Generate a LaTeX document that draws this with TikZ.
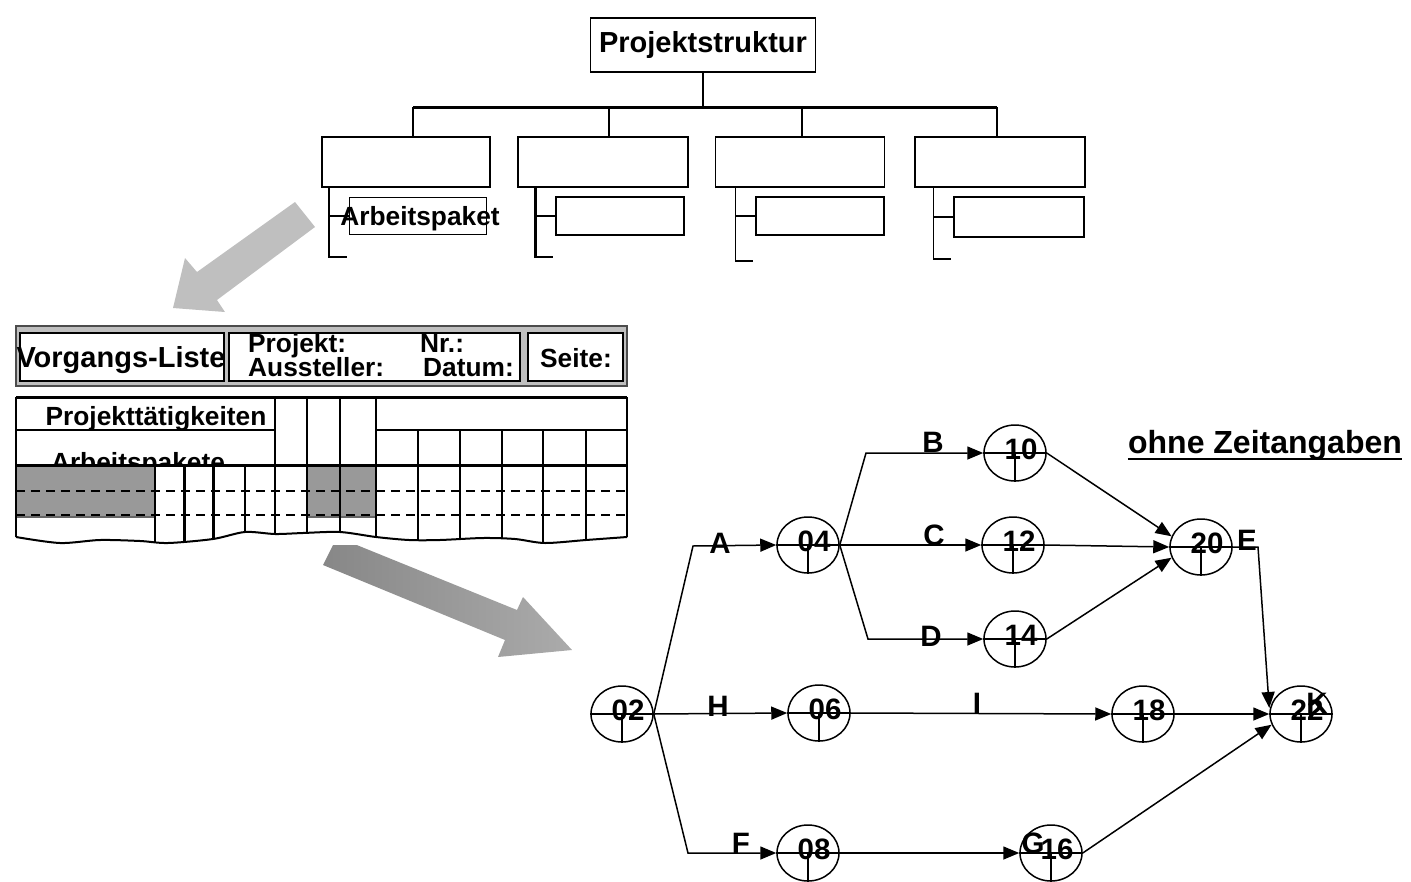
\documentclass[tikz,border=0pt]{standalone}
\usepackage{fontspec}
\setmainfont{Liberation Sans}
\usetikzlibrary{arrows.meta, shapes.geometric}

\newcommand{\headfont}{\fontsize{29}{29}\selectfont\bfseries}
\newcommand{\formfont}{\fontsize{26.3}{26.3}\selectfont\bfseries}
\newcommand{\netfont}{\fontsize{29.5}{29.5}\selectfont\bfseries}
\newcommand{\notefont}{\fontsize{32}{32}\selectfont\bfseries}

\begin{document}
\begin{tikzpicture}[x=1pt, y=-1pt,
  box/.style={draw, line width=1.5pt, inner sep=0pt},
  fbox/.style={draw, line width=2pt, fill=white, inner sep=0pt, minimum height=48pt},
  ftxt/.style={font=\formfont, inner sep=0pt, anchor=base},
  ev/.style={ellipse, draw, line width=1.5pt, minimum width=62pt, minimum height=56pt, inner sep=0pt},
  num/.style={font=\netfont, inner sep=0pt},
  lbl/.style={font=\netfont, inner sep=0pt},
  act/.style={line width=1.5pt, -{Triangle[length=16pt, width=13pt]}},
]
\useasboundingbox (0,0) rectangle (1411,881);

% Projektstruktur
\node[box, font=\headfont, minimum width=225pt, minimum height=54pt] (ps) at (703,45) {Projektstruktur};
\coordinate (bar) at (703,107);
\node[box, minimum width=168pt, minimum height=50pt] (b1) at (406,162) {};
\node[box, minimum width=170pt, minimum height=50pt] (b2) at (603,162) {};
\node[box, minimum width=169pt, minimum height=50pt] (b3) at (800,162) {};
\node[box, minimum width=170pt, minimum height=50pt] (b4) at (1000,162) {};
\node[box, minimum width=137pt, minimum height=37pt] (s1) at (418,216) {};
\node[box, minimum width=128pt, minimum height=38pt] (s2) at (620,216) {};
\node[box, minimum width=128pt, minimum height=38pt] (s3) at (820,216) {};
\node[box, minimum width=130pt, minimum height=40pt] (s4) at (1019,217) {};
\node[ftxt] (ap) at (420,225) {Arbeitspaket};

\draw[line width=2pt] (ps.south) -- (bar);
\draw[line width=3pt] ([xshift=7pt]b1.north |- bar) -- ([xshift=-3pt]b4.north |- bar);
\foreach \b/\d in {b1/7, b2/6, b3/2, b4/-3}
  \draw[line width=1.5pt] ([xshift=\d pt]\b.north) -- ([xshift=\d pt]\b.north |- bar);

% Klammern der Arbeitspakete
\foreach \b/\s/\w/\l in {b1/s1/2.5/69, b2/s2/2.5/69, b3/s3/1.5/73, b4/s4/1.5/71} {
  \path (\s.west) ++(-20,0) coordinate (t\s);
  \draw[line width=\w pt] (t\s) -- (\s.west);
  \draw[line width=\w pt] (t\s |- \b.south) -- ++(0,\l) -- ++(18,0);
}

% graue Pfeile
\fill[black!25] (295,202) -- (315,227) -- (217,300) -- (225,312) -- (173,308)
  -- (185,258) -- (197,272) -- cycle;
\shade[left color=black!47, right color=black!33] (337,537) -- (517,610) -- (523,597)
  -- (572,650) -- (498,657) -- (505,640) -- (323,565) -- cycle;

% Vorgangs-Liste, Kopf
\draw[line width=2pt, draw=black!70, fill=black!25] (16,326) rectangle (627,386);
\node[fbox, minimum width=204pt] (vl) at (122,357) {};
\node[fbox, minimum width=291pt] (pk) at (374.5,357) {};
\node[fbox, minimum width=95pt] (se) at (575.5,357) {};
\node[ftxt, font=\headfont] (tvl) at (121,367) {Vorgangs-Liste};
\node[ftxt, anchor=base west] (tpj) at (248,352) {Projekt:};
\node[ftxt, anchor=base west] (tnr) at (420,352) {Nr.:};
\node[ftxt, anchor=base west] (tau) at (248,376) {Aussteller:};
\node[ftxt, anchor=base west] (tda) at (423,376) {Datum:};
\node[ftxt] (tse) at (576,367) {Seite:};

% Vorgangs-Liste, Tabelle
\node[ftxt] (tpt) at (156,425) {Projekttätigkeiten};
\node[ftxt] (tar) at (138,471) {Arbeitspakete};
\fill[white] (17,466.5) rectangle (626,545);
\draw[line width=1.5pt, draw=black!60, fill=black!40] (16,465) rectangle (155,517);
\draw[line width=1.5pt, draw=black!60, fill=black!40] (307,465) rectangle (376,517);

\begin{scope}
\clip (5,390) -- (640,390) -- (640,537) -- plot[smooth] coordinates {
(627,537) (586,540) (545,543) (515,539) (483,538) (440,540) (409,540) (376,537)
(340,532) (303,533) (275,534) (245,532) (213,539) (168,543) (140,541) (100,540)
(60,543) (16,537) (5,537)} -- cycle;
\foreach \x/\w in {16/2.5, 275/2, 307/2.5, 340/1.5, 376/2.5, 627/2.5}
  \draw[line width=\w pt] (\x,397) -- (\x,560);
\foreach \x/\w in {418/2.5, 460/1.5, 502/2.5, 543/2.5, 586/1.5}
  \draw[line width=\w pt] (\x,430) -- (\x,560);
\foreach \x/\w in {155/2.5, 184/3, 213/3, 245/2}
  \draw[line width=\w pt] (\x,465) -- (\x,560);
\draw[line width=2pt, dash pattern=on 9pt off 6pt] (16,491) -- (627,491);
\draw[line width=2pt, dash pattern=on 9pt off 6pt] (16,515) -- (627,515);
\end{scope}
\draw[line width=2pt] plot[smooth] coordinates {
(16,537) (60,543) (100,540) (140,541) (168,543) (213,539) (245,532) (275,534)
(303,533) (340,532) (376,537) (409,540) (440,540) (483,538) (515,539) (545,543)
(586,540) (627,537)};
\draw[line width=3pt] (16,397) -- (627,397);
\draw[line width=2.5pt] (16,430) -- (275,430) (376,430) -- (627,430);
\draw[line width=3pt] (16,465) -- (627,465);

% Netzplan
\foreach \n/\x/\y in {02/622/714, 04/808/545, 06/819/713, 08/808/853, 10/1015/453,
  12/1013/545, 14/1015/639, 16/1051/853, 18/1143/714, 20/1201/547, 22/1301/714} {
  \node[ev] (n\n) at (\x,\y) {};
  \node[num] (t\n) at ([xshift=6pt, yshift=4pt]n\n.center) {\n};
  \draw[line width=1.5pt] (n\n.west) -- (n\n.east) (n\n.center) -- (n\n.south);
}

\coordinate (kA) at (693,546);
\coordinate (kF) at (688,853);
\coordinate (kB) at (866,453);
\coordinate (kD) at (868,639);
\coordinate (kE) at (1258,547);

\draw[act] (n02.east) -- (kA) -- (n04.west);
\draw[act] (n02.east) -- (n06.west);
\draw[act] (n02.east) -- (kF) -- (n08.west);
\draw[act] (n04.east) -- (kB) -- (n10.west);
\draw[act] (n04.east) -- (n12.west);
\draw[act] (n04.east) -- (kD) -- (n14.west);
\draw[act] (n10.east) -- (n20.160);
\draw[act] (n12.east) -- (n20.west);
\draw[act] (n14.east) -- (n20.200);
\draw[act] (n20.east) -- (kE) -- ([yshift=6pt]n22.west);
\draw[act] (n06.east) -- (n18.west);
\draw[act] (n18.east) -- (n22.west);
\draw[act] (n08.east) -- (n16.west);
\draw[act] (n16.east) -- (n22.200);

\node[lbl] (lA) at (720,543) {A};
\node[lbl] (lB) at (933,442) {B};
\node[lbl] (lC) at (934,535) {C};
\node[lbl] (lD) at (931,636) {D};
\node[lbl] (lE) at (1247,540) {E};
\node[lbl] (lF) at (741,843) {F};
\node[lbl] (lG) at (1033,843) {G};
\node[lbl] (lH) at (718,706) {H};
\node[lbl] (lI) at (977,703) {I};
\node[lbl] (lK) at (1317,703) {K};

\node[font=\notefont, anchor=base, inner sep=0pt] (oz) at (1265,453) {ohne Zeitangaben};
\draw[line width=2.5pt] ([yshift=-6pt]oz.base west) -- ([yshift=-6pt]oz.base east);

\end{tikzpicture}
\end{document}
